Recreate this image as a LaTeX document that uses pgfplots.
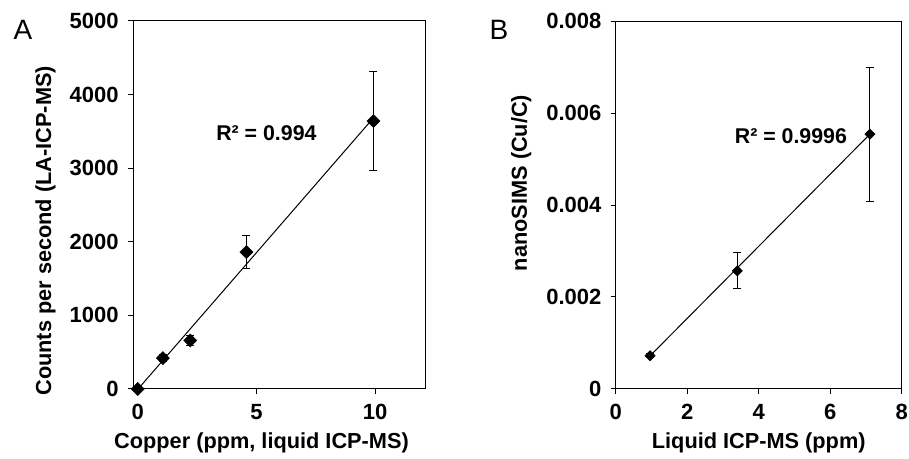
\documentclass[border=0pt]{standalone}
\usepackage{fontspec}
\setmainfont{Liberation Sans}
\usepackage{pgfplots}
\pgfplotsset{compat=1.18}

\pgfplotsset{panel/.style={
  scale only axis, height=276pt, clip=false,
  axis line style={line width=0.75pt, black},
  tick align=outside, xtick pos=bottom, ytick pos=left,
  major tick length=3.75pt, tick style={line width=0.75pt, black},
  ticklabel style={font=\fontsize{16.5}{19}\selectfont\bfseries},
  xticklabel style={yshift=-4pt}, yticklabel style={xshift=-3.5pt},
  /pgf/number format/assume math mode=true, /pgf/number format/1000 sep={},
  every axis x label/.style={at={(axis description cs:0.5,-0.147)}, anchor=center,
    font=\fontsize{16.3}{19}\selectfont\bfseries},
  every axis y label/.style={at={(axis description cs:-0.3,0.5)}, rotate=90, anchor=center,
    font=\fontsize{16.3}{19}\selectfont\bfseries},
}}
\pgfplotsset{errs/.style={
  only marks, mark=square*, mark options={fill=black, draw=black, rotate=45},
  error bars/.cd, y dir=both, y explicit, error mark=-,
  error bar style={line width=0.75pt, black},
  error mark options={rotate=90, mark size=3pt, line width=0.75pt, black}
}}

\begin{document}
\begin{tikzpicture}
\useasboundingbox (0,0) rectangle (681.75pt,344.25pt);
\node[font=\fontsize{21}{25}\selectfont] at (17.25pt,321.75pt) {A};
\node[font=\fontsize{21}{25}\selectfont] at (374.25pt,321.75pt) {B};

\begin{axis}[panel, at={(99.75pt,52.5pt)}, anchor=south west, width=219pt,
  xmin=-0.2, xmax=12.1, ymin=0, ymax=5000,
  xtick={0,5,10}, ytick={0,1000,...,5000},
  xlabel={Copper (ppm, liquid ICP-MS)}, ylabel={Counts per second (LA-ICP-MS)},
  xlabel style={at={(axis description cs:0.44,-0.147)}},
  ylabel style={at={(axis description cs:-0.3,0.43)}}]
\addplot[black, line width=0.75pt] coordinates {(0,-5) (9.93,3684)};
\addplot[mark size=3.45pt, errs] coordinates {
  (0,0) +- (0,10)
  (1.06,420) +- (0,45)
  (2.21,660) +- (0,70)
  (4.58,1860) +- (0,220)
  (9.93,3640) +- (0,675)
};
\node[font=\fontsize{16}{19}\selectfont\bfseries] at (axis cs:5.42,3470) {R² = 0.994};
\end{axis}

\begin{axis}[panel, at={(461.8pt,52.5pt)}, anchor=south west, width=214.5pt,
  xmin=0, xmax=8, ymin=0, ymax=0.008,
  xtick={0,2,...,8}, ytick={0,0.002,...,0.008},
  scaled y ticks=false,
  yticklabel style={/pgf/number format/fixed, /pgf/number format/precision=3},
  xlabel={Liquid ICP-MS (ppm)}, ylabel={nanoSIMS (Cu/C)},
  xlabel style={at={(axis description cs:0.5,-0.147)}},
  ylabel style={at={(axis description cs:-0.33,0.56)}}]
\addplot[black, line width=0.75pt] coordinates {(0.96,0.00072) (7.11,0.00554)};
\addplot[mark size=2.7pt, errs] coordinates {
  (0.96,0.000723) +- (0,0.00004)
  (3.40,0.002568) +- (0,0.00039)
  (7.11,0.00554) +- (0,0.00146)
};
\node[font=\fontsize{16}{19}\selectfont\bfseries, anchor=east] at (axis cs:6.6,0.0055) {R² = 0.9996};
\end{axis}
\end{tikzpicture}
\end{document}
